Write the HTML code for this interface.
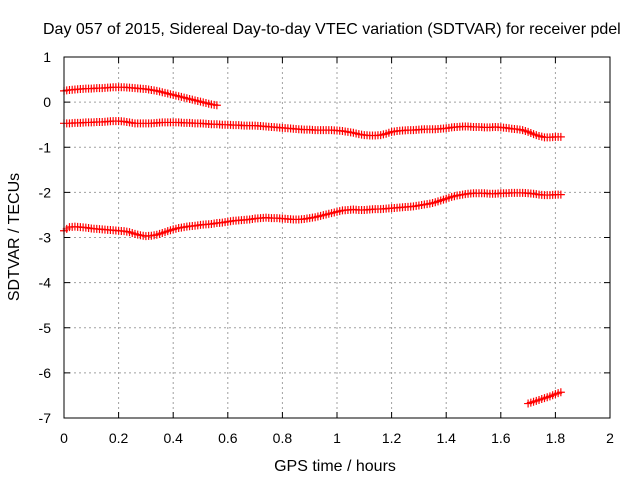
<!DOCTYPE html>
<html><head><meta charset="utf-8"><style>
body{margin:0;background:#fff;overflow:hidden}
svg{display:block;font-family:"Liberation Sans",sans-serif}
</style></head><body>
<svg id="chart" width="640" height="480" viewBox="0 0 640 480">
<rect width="640" height="480" fill="#fff"/>
<text x="43" y="34" font-size="16" text-anchor="start">Day 057 of 2015, Sidereal Day-to-day VTEC variation (SDTVAR) for receiver pdel</text>
<text x="0" y="0" font-size="16" text-anchor="middle" transform="translate(19,237) rotate(-90)">SDTVAR / TECUs</text>
<text x="335" y="471" font-size="16" text-anchor="middle">GPS time / hours</text>
<g id="grid"></g><g id="ticks"></g><g id="series"></g>
<rect x="64" y="57" width="546" height="361" fill="none" stroke="#000" stroke-width="1"/>
</svg>
<script>
const xTicks=[0,0.2,0.4,0.6,0.8,1,1.2,1.4,1.6,1.8,2];
const yTicks=[1,0,-1,-2,-3,-4,-5,-6,-7];
const xStep=0.02;
const aStart=0;
const aVals=[0.25,0.27,0.28,0.29,0.30,0.30,0.31,0.31,0.32,0.33,0.33,0.33,0.32,0.31,0.30,0.29,0.27,0.25,0.22,0.19,0.16,0.13,0.10,0.07,0.04,0.01,-0.02,-0.05,-0.07];
const bStart=0;
const bVals=[-0.47,-0.47,-0.46,-0.46,-0.45,-0.45,-0.44,-0.44,-0.43,-0.42,-0.42,
-0.43,-0.45,-0.47,-0.47,-0.47,-0.47,-0.46,-0.45,-0.45,-0.45,
-0.45,-0.46,-0.46,-0.47,-0.47,-0.48,-0.49,-0.49,-0.50,-0.50,
-0.51,-0.51,-0.52,-0.52,-0.52,-0.53,-0.54,-0.55,-0.56,-0.57,
-0.58,-0.59,-0.60,-0.61,-0.61,-0.62,-0.62,-0.62,-0.62,-0.63,
-0.64,-0.66,-0.68,-0.71,-0.73,-0.74,-0.74,-0.73,-0.70,-0.66,
-0.64,-0.63,-0.62,-0.62,-0.61,-0.60,-0.60,-0.60,-0.59,-0.58,
-0.56,-0.55,-0.54,-0.54,-0.55,-0.55,-0.56,-0.56,-0.55,-0.56,
-0.57,-0.59,-0.60,-0.62,-0.66,-0.71,-0.75,-0.78,-0.78,-0.77,-0.77];
const cStart=0;
const cVals=[-2.85,-2.77,-2.76,-2.77,-2.78,-2.80,-2.81,-2.82,-2.83,-2.84,-2.85,
-2.86,-2.88,-2.92,-2.95,-2.97,-2.96,-2.94,-2.90,-2.86,-2.82,
-2.79,-2.77,-2.75,-2.74,-2.72,-2.71,-2.70,-2.68,-2.67,-2.65,
-2.63,-2.62,-2.61,-2.60,-2.58,-2.57,-2.56,-2.57,-2.57,-2.58,
-2.59,-2.60,-2.60,-2.59,-2.57,-2.55,-2.52,-2.49,-2.46,-2.43,
-2.40,-2.39,-2.38,-2.39,-2.39,-2.38,-2.37,-2.37,-2.36,-2.35,
-2.34,-2.33,-2.32,-2.31,-2.29,-2.27,-2.25,-2.22,-2.18,-2.14,
-2.10,-2.07,-2.05,-2.03,-2.02,-2.02,-2.02,-2.03,-2.03,-2.02,
-2.02,-2.01,-2.01,-2.01,-2.02,-2.03,-2.05,-2.06,-2.06,-2.05,-2.05];
const dStart=1.70;
const dVals=[-6.68,-6.64,-6.60,-6.56,-6.52,-6.47,-6.43];

const X0=64,X1=610,Y0=418,Y1=57;
const xs=v=>X0+(v-0)/(2-0)*(X1-X0);
const ys=v=>Y0-(v-(-7))/(1-(-7))*(Y0-Y1);
const NS="http://www.w3.org/2000/svg";
function mk(tag,parent,attrs){const e=document.createElementNS(NS,tag);for(const k in attrs)e.setAttribute(k,attrs[k]);parent.appendChild(e);return e;}
const grid=document.getElementById('grid'),ticks=document.getElementById('ticks'),ser=document.getElementById('series');
xTicks.forEach(t=>{
  const x=xs(t);
  if(t>0&&t<2){const g=mk('line',grid,{x1:x,x2:x,y1:Y1,y2:Y0,stroke:'#a0a0a0','stroke-dasharray':'2,3'});
  
  }
  mk('line',ticks,{x1:x,x2:x,y1:Y0,y2:Y0-6,stroke:'#000'});
  mk('line',ticks,{x1:x,x2:x,y1:Y1,y2:Y1+6,stroke:'#000'});
  const l=mk('text',ticks,{x:x,y:443,'font-size':14,'text-anchor':'middle'});
  l.textContent=String(t);
  
  
});
yTicks.forEach(t=>{
  const y=ys(t);
  if(t<1&&t>-7){const g=mk('line',grid,{x1:X0,x2:X1,y1:y,y2:y,stroke:'#a0a0a0','stroke-dasharray':'2,3'});
  
  }
  mk('line',ticks,{x1:X0,x2:X0+6,y1:y,y2:y,stroke:'#000'});
  mk('line',ticks,{x1:X1,x2:X1-6,y1:y,y2:y,stroke:'#000'});
  const l=mk('text',ticks,{x:51,y:y+5,'font-size':14,'text-anchor':'end'});
  l.textContent=String(t);
  
  
});
function drawSeries(start,vals,name){
  const g=mk('g',ser,{});
  
  
  let d='';
  vals.forEach((v,i)=>{
    const x=xs(start+i*xStep),y=ys(v);
    d+=`M${x-4},${y}h8M${x},${y-4}v8`;
    if(i<vals.length-1){
      const xm=xs(start+(i+0.5)*xStep),ym=ys((v+vals[i+1])/2);
      d+=`M${xm-4},${ym}h8M${xm},${ym-4}v8`;
    }
  });
  mk('path',g,{d:d,stroke:'#ff0000','stroke-width':1.2,fill:'none'});
}
drawSeries(aStart,aVals,'series-top');
drawSeries(bStart,bVals,'series-upper');
drawSeries(cStart,cVals,'series-middle');
drawSeries(dStart,dVals,'series-bottom');
</script>
</body></html>
